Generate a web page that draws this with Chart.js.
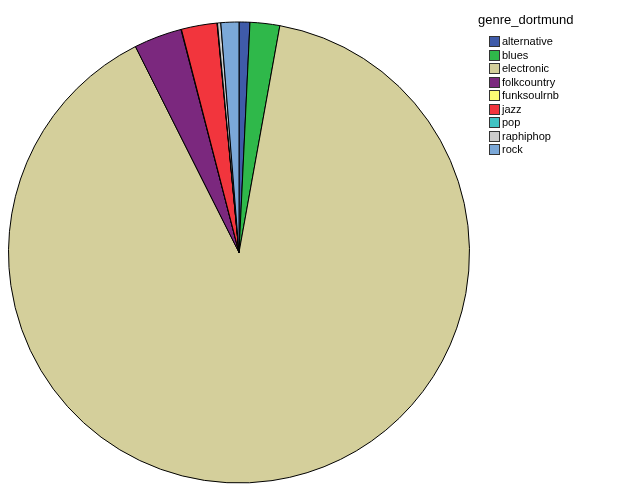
<!DOCTYPE html>
<html>
<head>
<meta charset="utf-8">
<script src="https://cdn.jsdelivr.net/npm/chart.js@4"></script>
<style>
  html,body{margin:0;padding:0;background:#fff;}
  #wrap{position:relative;width:629px;height:504px;}
  #legend{position:absolute;left:478px;top:12px;font-family:"Liberation Sans",Arial,sans-serif;color:#000;}
  #legend .title{font-size:13px;height:18px;line-height:16px;margin-bottom:5px;}
  #legend .item{position:relative;height:13.5px;line-height:13px;font-size:11px;padding-left:24px;}
  #legend .box{position:absolute;left:11px;top:1px;width:9px;height:9px;border:1px solid #333;}
</style>
</head>
<body>
<div id="wrap">
  <canvas id="chartGenre" width="629" height="504"></canvas>
  <div id="legend"><div class="title">genre_dortmund</div></div>
</div>
<script>
// datos (porcentaje aproximado)
const genres = ['alternative','blues','electronic','folkcountry','funksoulrnb','jazz','pop','raphiphop','rock'];
const shares = [0.76, 2.08, 89.8, 3.37, 0.03, 2.5, 0.03, 0.23, 1.26];
const colors = ['#3F5BA9','#2FB84A','#D4CF9B','#7B287E','#FCFC74','#F2353D','#40C4C4','#CCCCCC','#7BA8D8'];

// leyenda en HTML
const leg = document.getElementById('legend');
genres.forEach((g,i)=>{
  leg.insertAdjacentHTML('beforeend', `<div class="item"><span class="box" style="background:${colors[i]}"></span>${g}</div>`);
});

new Chart(document.getElementById('chartGenre'),{
  type:'pie',
  data:{
    labels:genres,
    datasets:[{data:shares,backgroundColor:colors,borderColor:'#000',borderWidth:1}]
  },
  options:{
    responsive:false,
    animation:false,
    layout:{padding:{left:8,top:21,bottom:20,right:159}},
    plugins:{legend:{display:false},tooltip:{enabled:false}}
  }
});
</script>
</body>
</html>
